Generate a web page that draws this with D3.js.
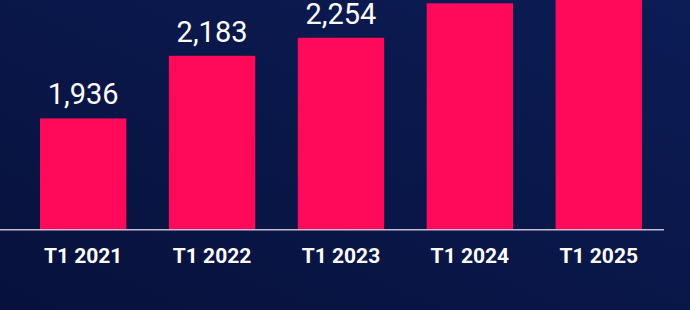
<!DOCTYPE html>
<html>
<head>
<meta charset="utf-8">
<script src="https://cdn.jsdelivr.net/npm/d3@7"></script>
<style>
  html, body { margin: 0; padding: 0; background: #0a1546; }
  svg { display: block; }
</style>
</head>
<body>
<div id="chart"></div>
<script>
// Data (2024 / 2025 bars run past the top edge, values estimated)
const periods = ["T1 2021", "T1 2022", "T1 2023", "T1 2024", "T1 2025"];
const values = [1936, 2183, 2254, 2390, 2480];
// only the labels that are visible in the picture
const valueLabels = ["1,936", "2,183", "2,254", "", ""];

const width = 690;
const height = 310;
const baseline = 229.7;

const svg = d3.select("#chart")
    .append("svg")
    .attr("width", width)
    .attr("height", height);

// Background gradient (dark navy, slightly lighter to the top right)
const defs = svg.append("defs");
const bg = defs.append("linearGradient")
    .attr("id", "bg-gradient")
    .attr("x1", "0%").attr("y1", "100%")
    .attr("x2", "100%").attr("y2", "0%");
bg.append("stop").attr("offset", "0%").attr("stop-color", "#07113c");
bg.append("stop").attr("offset", "100%").attr("stop-color", "#0c1c55");

svg.append("rect")
    .attr("width", width)
    .attr("height", height)
    .attr("fill", "url(#bg-gradient)");

// Scales
const x = d3.scaleBand()
    .domain(periods)
    .range([18.7, 663.2])
    .paddingInner(0.33)
    .paddingOuter(0.165);

// the value axis does not start at zero
const y = d3.scaleLinear()
    .domain([1497, 2390])
    .range([baseline, 3.3]);

// Bars
svg.selectAll("rect.bar")
    .data(values)
    .enter()
    .append("rect")
    .attr("class", "bar")
    .attr("x", (d, i) => x(periods[i]))
    .attr("y", d => y(d))
    .attr("width", x.bandwidth())
    .attr("height", d => baseline - y(d))
    .attr("fill", "#ff0a5b");

// Value labels
svg.selectAll("text.value")
    .data(values.filter((d, i) => valueLabels[i] !== ""))
    .enter()
    .append("text")
    .attr("class", "value")
    .attr("x", (d, i) => x(periods[i]) + x.bandwidth() / 2)
    .attr("y", d => y(d) - 14)
    .attr("text-anchor", "middle")
    .attr("fill", "#ffffff")
    .style("font-family", "Roboto, sans-serif")
    .style("font-size", "29px")
    .text((d, i) => valueLabels[i]);

// Baseline axis
const xAxis = svg.append("g")
    .attr("transform", `translate(0,${baseline})`)
    .call(d3.axisBottom(x).tickSize(0).tickPadding(0));

xAxis.select(".domain").remove();
xAxis.append("line")
    .attr("x1", 0)
    .attr("x2", 664)
    .attr("stroke", "#c8bcd4")
    .attr("stroke-width", 1.5);

xAxis.selectAll(".tick text")
    .attr("y", 33)
    .attr("dy", 0)
    .attr("fill", "#ffffff")
    .style("font-family", "Roboto, sans-serif")
    .style("font-weight", "bold")
    .style("font-size", "21px");
</script>
</body>
</html>
